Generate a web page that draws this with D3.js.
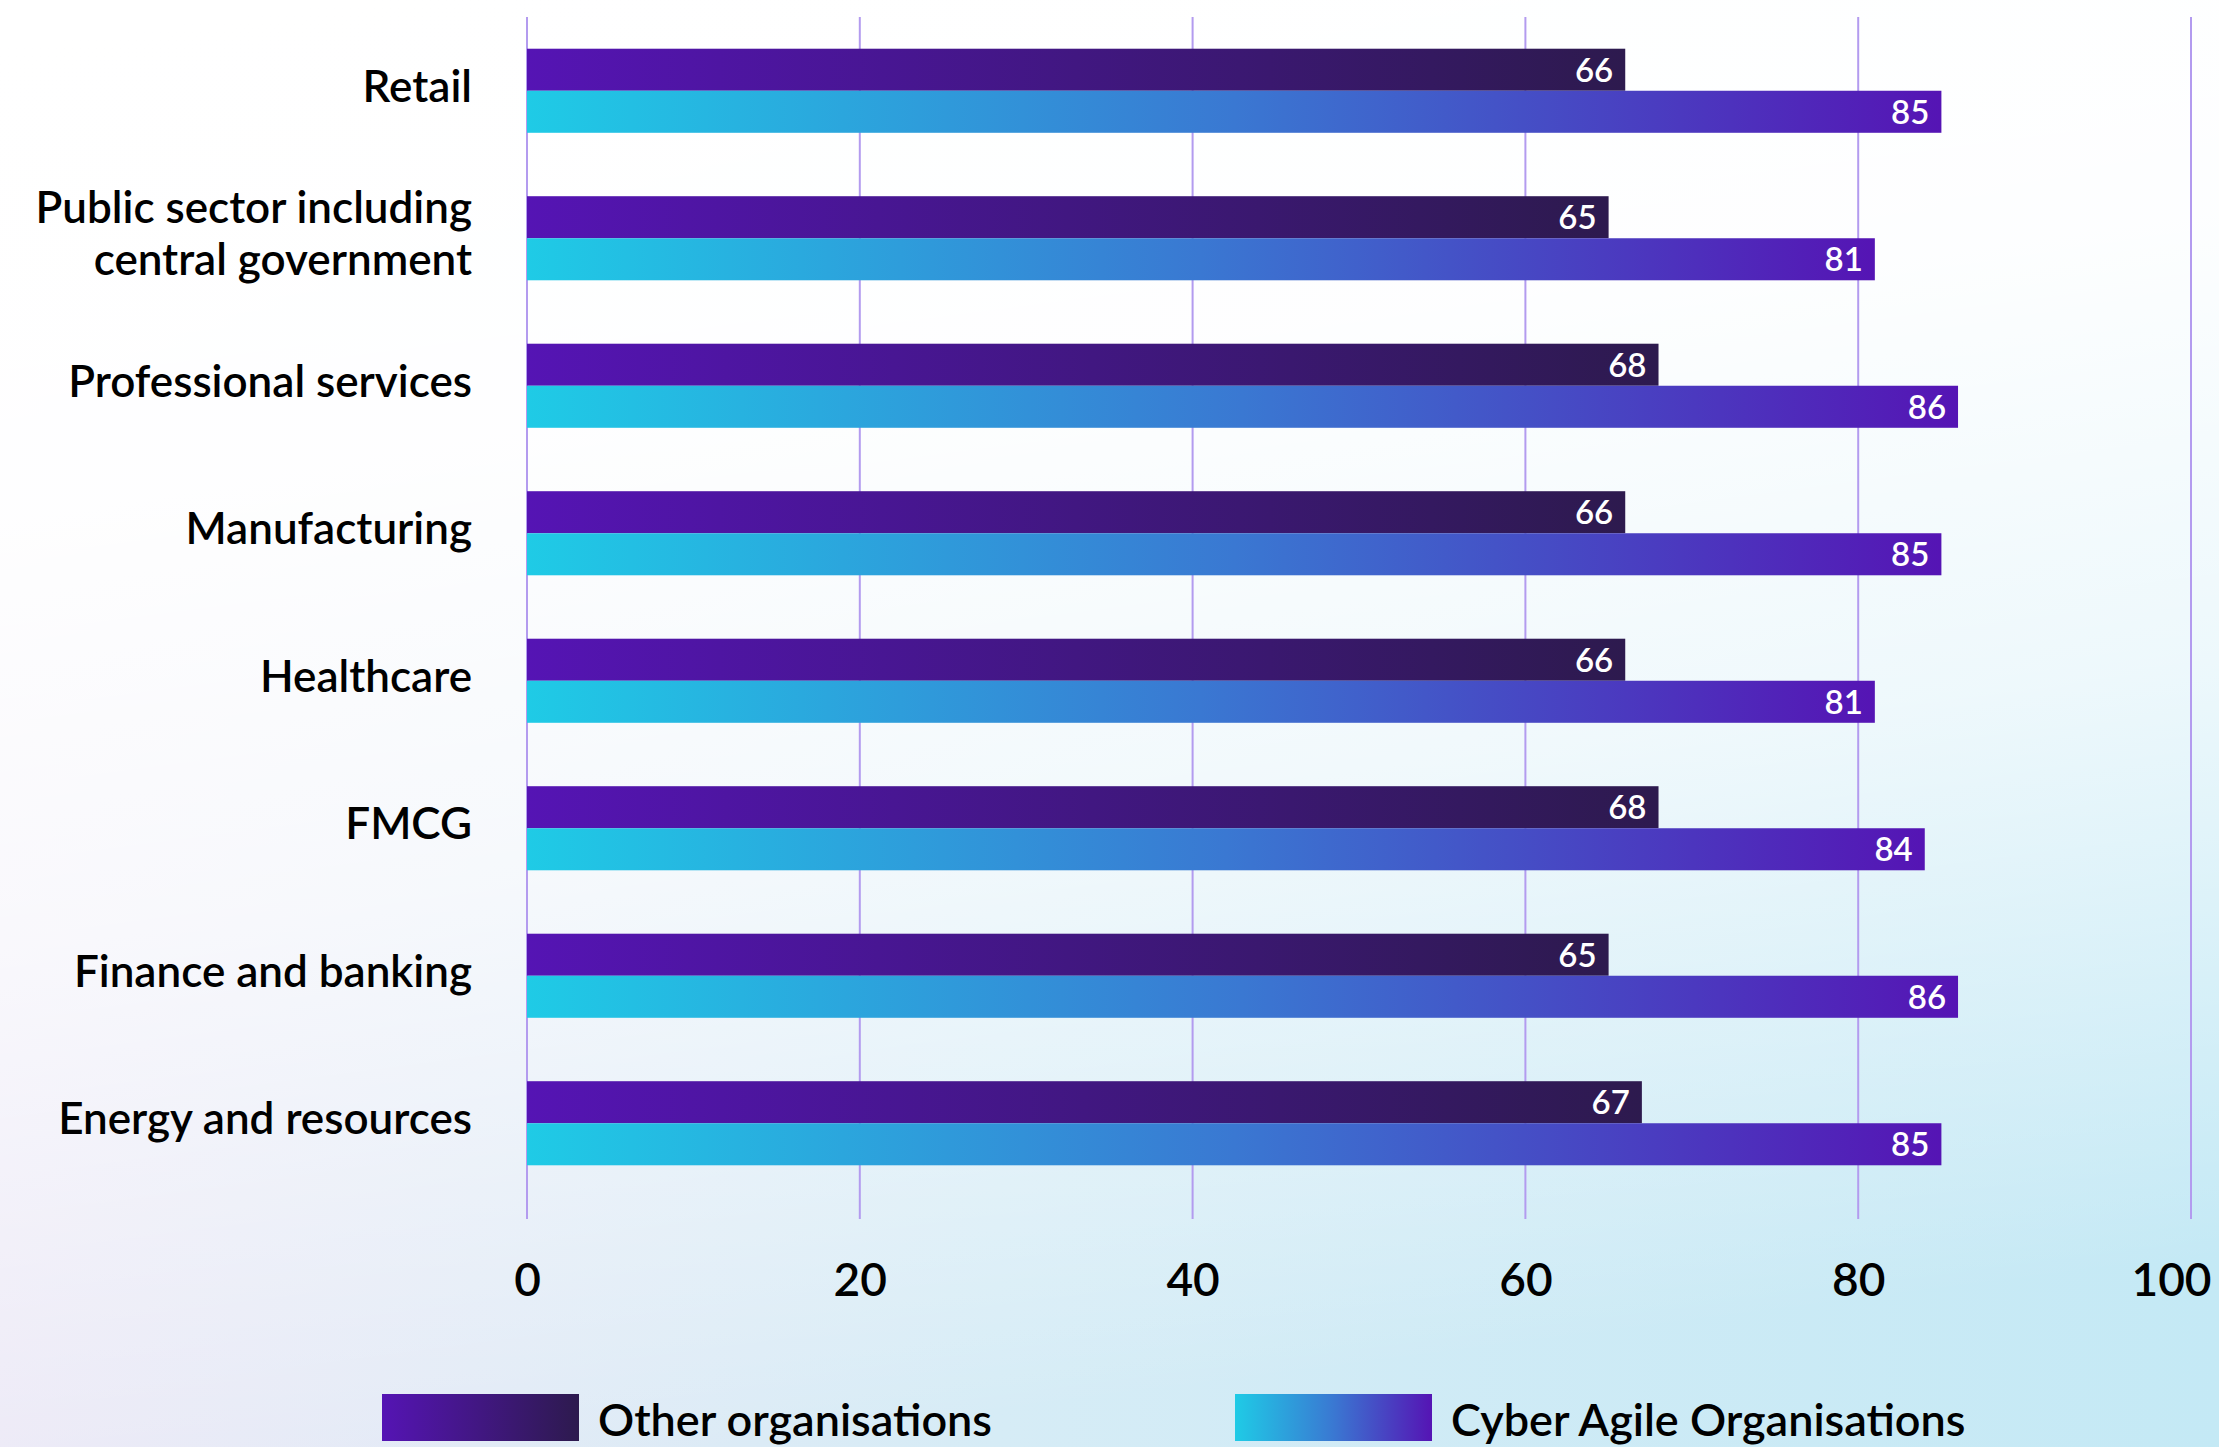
<!DOCTYPE html>
<html>
<head>
<meta charset="utf-8">
<script src="https://cdn.jsdelivr.net/npm/d3@7"></script>
<style>
  html, body { margin: 0; padding: 0; background: #fff; }
  svg { display: block; }
  text { font-family: Lato, "Noto Sans", sans-serif; }
</style>
</head>
<body>
<svg id="chart" width="2219" height="1447"></svg>
<script>
// Sector categories (top to bottom); each label may break across lines
const categories = [
  ["Retail"],
  ["Public sector including", "central government"],
  ["Professional services"],
  ["Manufacturing"],
  ["Healthcare"],
  ["FMCG"],
  ["Finance and banking"],
  ["Energy and resources"]
];
const seriesNames = ["Other organisations", "Cyber Agile Organisations"];
const otherValues = [66, 65, 68, 66, 66, 68, 65, 67];
const agileValues = [85, 81, 86, 85, 81, 84, 86, 85];
const xTicks = [0, 20, 40, 60, 80, 100];

const W = 2219, H = 1447;
const svg = d3.select("#chart");
const defs = svg.append("defs");

// Background wash: lavender at lower left, pale cyan at lower right, fading to white at the top
const bgH = defs.append("linearGradient").attr("id", "bgH")
  .attr("x1", 0).attr("y1", 0).attr("x2", 1).attr("y2", 0);
bgH.append("stop").attr("offset", 0).attr("stop-color", "#ebe8f6");
bgH.append("stop").attr("offset", 0.45).attr("stop-color", "#d6ecf6");
bgH.append("stop").attr("offset", 1).attr("stop-color", "#c4e9f5");
const bgV = defs.append("linearGradient").attr("id", "bgV")
  .attr("x1", 0.15).attr("y1", 0).attr("x2", 0.35).attr("y2", 1);
bgV.append("stop").attr("offset", 0).attr("stop-color", "#fff").attr("stop-opacity", 1);
bgV.append("stop").attr("offset", 0.3).attr("stop-color", "#fff").attr("stop-opacity", 0.97);
bgV.append("stop").attr("offset", 0.6).attr("stop-color", "#fff").attr("stop-opacity", 0.7);
bgV.append("stop").attr("offset", 1).attr("stop-color", "#fff").attr("stop-opacity", 0);
svg.append("rect").attr("width", W).attr("height", H).attr("fill", "url(#bgH)");
svg.append("rect").attr("width", W).attr("height", H).attr("fill", "url(#bgV)");

// Bar fills
const gOther = defs.append("linearGradient").attr("id", "gradOther")
  .attr("x1", 0).attr("y1", 0).attr("x2", 1).attr("y2", 0);
gOther.append("stop").attr("offset", 0).attr("stop-color", "#5514b4");
gOther.append("stop").attr("offset", 1).attr("stop-color", "#2d1a4e");
const gAgile = defs.append("linearGradient").attr("id", "gradAgile")
  .attr("x1", 0).attr("y1", 0).attr("x2", 1).attr("y2", 0);
gAgile.append("stop").attr("offset", 0).attr("stop-color", "#1fcbe6");
gAgile.append("stop").attr("offset", 0.5).attr("stop-color", "#3a78d2");
gAgile.append("stop").attr("offset", 1).attr("stop-color", "#5514b4");
const fills = ["url(#gradOther)", "url(#gradAgile)"];

// Scales
const x = d3.scaleLinear().domain([0, 100]).range([527, 2191]);
const y = d3.scaleBand().domain(d3.range(categories.length))
  .range([17, 1197]).paddingInner(0.43).paddingOuter(0.215);
const ySub = d3.scaleBand().domain([0, 1]).range([0, y.bandwidth()]);

// Vertical gridlines
const gridTop = 17, gridBottom = 1219;
svg.append("g").selectAll("line").data(xTicks).join("line")
  .attr("x1", d => x(d)).attr("x2", d => x(d))
  .attr("y1", gridTop).attr("y2", gridBottom)
  .attr("stroke", "#b39bef").attr("stroke-width", 2);

// X axis tick labels (the last one is kept inside the right edge)
const xAxis = d3.axisBottom(x).tickValues(xTicks).tickSize(0).tickPadding(0);
const axG = svg.append("g").attr("transform", `translate(0, 1296)`).call(xAxis);
axG.select(".domain").remove();
axG.selectAll("text")
  .attr("dy", 0).attr("y", 0)
  .attr("font-family", "Lato, sans-serif")
  .attr("font-size", 46).attr("font-weight", 600).attr("fill", "#000");
axG.selectAll(".tick").filter(d => d === 100).select("text")
  .attr("text-anchor", "end").attr("x", 2211 - x(100));

// Bars
const rows = categories.map((c, i) => ({ i, vals: [otherValues[i], agileValues[i]] }));
const rowG = svg.append("g").selectAll("g").data(rows).join("g")
  .attr("transform", d => `translate(0, ${y(d.i)})`);

const bars = rowG.selectAll("g.bar").data(d => d.vals.map((v, s) => ({ v, s })))
  .join("g").attr("class", "bar");
bars.append("rect")
  .attr("x", x(0))
  .attr("y", d => ySub(d.s))
  .attr("width", d => x(d.v) - x(0))
  .attr("height", ySub.bandwidth())
  .attr("fill", d => fills[d.s]);
bars.append("text")
  .attr("x", d => x(d.v) - 12)
  .attr("y", d => ySub(d.s) + ySub.bandwidth() / 2 + 12)
  .attr("text-anchor", "end")
  .attr("font-size", 33).attr("font-weight", 600)
  .attr("fill", "#fff")
  .text(d => d.v);

// Category labels
const lineGap = 52;
rowG.append("text")
  .attr("text-anchor", "end")
  .attr("font-size", 44).attr("font-weight", 600).attr("fill", "#000")
  .each(function (d) {
    const lines = categories[d.i];
    const cy = y.bandwidth() / 2 + 11;
    d3.select(this).selectAll("tspan").data(lines).join("tspan")
      .attr("x", 472)
      .attr("y", (l, k) => cy + (k - (lines.length - 1) / 2) * lineGap)
      .text(l => l);
  });

// Legend
const legendItems = [
  { name: seriesNames[0], fill: fills[0], sx: 382 },
  { name: seriesNames[1], fill: fills[1], sx: 1235 }
];
const lg = svg.append("g").selectAll("g").data(legendItems).join("g");
lg.append("rect")
  .attr("x", d => d.sx).attr("y", 1394)
  .attr("width", 197).attr("height", 47)
  .attr("fill", d => d.fill);
lg.append("text")
  .attr("x", d => d.sx + 216).attr("y", 1436)
  .attr("font-size", 45).attr("font-weight", 600).attr("fill", "#000")
  .text(d => d.name);
</script>
</body>
</html>
